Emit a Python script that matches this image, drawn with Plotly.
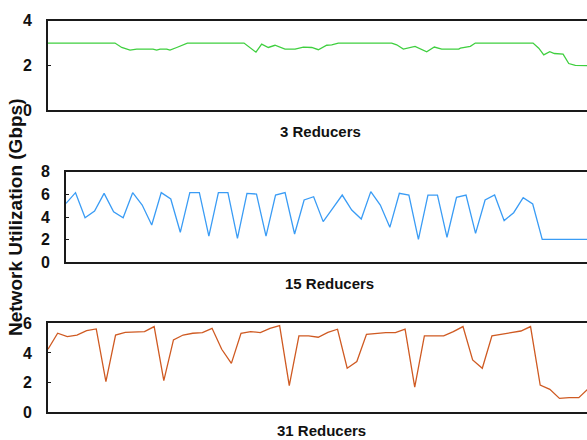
import plotly.graph_objects as go

# Panel 1: 3 reducers (time in sample units, utilization Gbps)
t_3 = [0, 6.94, 7.64, 8.5, 9.19, 10.88, 11.26, 11.61, 12.3, 12.64, 13.34, 14.2, 14.44,
       20.31, 20.93, 21.55, 22.14, 22.83, 23.52, 24.56, 25.6, 26.46, 27.33, 28.01, 28.88,
       29.4, 30.08, 35.61, 36.13, 36.82, 38.03, 39.24, 40.03, 40.8, 42.56, 42.73, 43.76,
       44.28, 50.26, 50.85, 51.37, 51.99, 52.47, 53.37, 53.96, 54.64, 56.17]
util_3 = [3.0, 3.0, 2.8, 2.68, 2.73, 2.73, 2.68, 2.73, 2.73, 2.68, 2.8, 2.95, 3.0,
          3.0, 2.8, 2.59, 2.95, 2.8, 2.9, 2.73, 2.73, 2.82, 2.8, 2.7, 2.9,
          2.92, 3.0, 3.0, 2.92, 2.73, 2.85, 2.61, 2.82, 2.73, 2.73, 2.77, 2.85,
          3.0, 3.0, 2.77, 2.47, 2.61, 2.53, 2.5, 2.08, 2.0, 1.98]

# Panel 2: 15 reducers
util_15 = [5.2, 6.15, 3.94, 4.53, 6.09, 4.47, 3.94, 6.15, 5.06, 3.29, 6.15, 5.59, 2.65,
           6.15, 6.15, 2.32, 6.15, 6.15, 2.12, 6.09, 6.03, 2.32, 5.94, 6.15, 2.5,
           5.5, 5.79, 3.59, 4.76, 5.94, 4.62, 3.82, 6.24, 5.06, 3.09, 6.09, 5.94, 2.03,
           5.94, 5.94, 2.21, 5.74, 5.94, 2.56, 5.5, 5.94, 3.68, 4.38, 5.71, 5.15, 2.03,
           2.03, 2.03, 2.03, 2.03, 2.03, 2.03]
t_15 = list(range(len(util_15)))

# Panel 3: 31 reducers
util_31 = [4.25, 5.33, 5.1, 5.21, 5.51, 5.62, 2.07, 5.21, 5.39, 5.39, 5.44, 5.78, 2.13,
           4.88, 5.21, 5.33, 5.37, 5.66, 4.25, 3.3, 5.33, 5.44, 5.37, 5.66, 5.84, 1.8,
           5.15, 5.15, 5.06, 5.39, 5.6, 2.97, 3.42, 5.26, 5.33, 5.37, 5.37, 5.6, 1.69,
           5.15, 5.15, 5.15, 5.44, 5.78, 3.53, 2.97, 5.15, 5.26, 5.33, 5.48, 5.78, 1.84,
           1.55, 0.94, 0.99, 0.99, 1.6]
t_31 = list(range(len(util_31)))

titles = ["3 Reducers", "15 Reducers", "31 Reducers"]
y_ranges = [[0, 4], [0, 8], [0, 6]]
x_ranges = [[0, 55.85], [0, 54.7], [0, 55.85]]
colors = ["#3fcf3f", "#3a9cf5", "#cf5a22"]

W, H = 587, 440
def px_x(p):
    return p / W
def px_y(p):
    return 1 - p / H

fig = go.Figure()
series = [(t_3, util_3), (t_15, util_15), (t_31, util_31)]
x_dom = [[px_x(48), 1], [px_x(66), 1], [px_x(48), 1]]
y_dom = [[px_y(110), px_y(20.7)], [px_y(262.3), px_y(171.7)], [px_y(412.3), px_y(323.3)]]

font_fam = "Liberation Sans, Arial, sans-serif"
for i, (t, u) in enumerate(series):
    suffix = "" if i == 0 else str(i + 1)
    fig.add_trace(go.Scatter(x=t, y=u, mode="lines",
                             line=dict(color=colors[i], width=1.3),
                             xaxis="x" + suffix, yaxis="y" + suffix,
                             showlegend=False, hoverinfo="skip"))
    fig.layout["xaxis" + suffix] = dict(
        domain=x_dom[i], range=x_ranges[i], anchor="y" + suffix, automargin=False,
        showline=True, mirror=True, linecolor="#1a1a1a", linewidth=1.6,
        showticklabels=False, ticks="", showgrid=False, zeroline=False)
    fig.layout["yaxis" + suffix] = dict(
        domain=y_dom[i], range=y_ranges[i], anchor="x" + suffix, dtick=2, automargin=False,
        showline=True, mirror=False, linecolor="#1a1a1a", linewidth=1.6,
        ticks="inside", ticklen=3, tickcolor="#1a1a1a", ticklabelstandoff=11,
        showgrid=False, zeroline=False,
        tickfont=dict(family=font_fam, size=16, color="#111", weight="bold"))

title_pos = [(320, 131), (329, 283), (321, 430)]
for (cx, cy), txt in zip(title_pos, titles):
    fig.add_annotation(text=txt, x=px_x(cx), y=px_y(cy), xref="paper", yref="paper",
                       showarrow=False, xanchor="center", yanchor="middle",
                       font=dict(family=font_fam, size=15, color="#111", weight="bold"))

fig.add_annotation(text="Network Utilization (Gbps)", x=px_x(15), y=px_y(217),
                   xref="paper", yref="paper", showarrow=False, textangle=-90,
                   xanchor="center", yanchor="middle",
                   font=dict(family=font_fam, size=19, color="#111", weight="bold"))

fig.update_layout(width=W, height=H, autosize=False,
                  margin=dict(l=0, r=0, t=0, b=0, autoexpand=False),
                  paper_bgcolor="white", plot_bgcolor="white")

post = """
document.documentElement.style.margin='0';
document.body.style.margin='0';
document.body.style.overflow='hidden';
var gd=document.getElementById('{plot_id}');
gd.style.position='fixed'; gd.style.left='0px'; gd.style.top='0px';
"""
fig.write_html("out.html", config={"displayModeBar": False, "responsive": False},
               post_script=post)
